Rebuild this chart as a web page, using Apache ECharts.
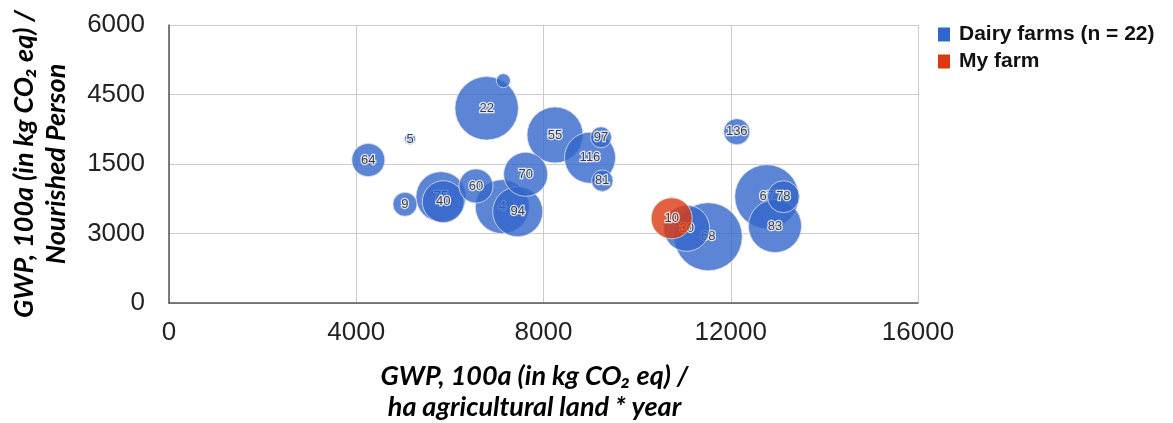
<!DOCTYPE html>
<html>
<head>
<meta charset="utf-8">
<script src="https://cdn.jsdelivr.net/npm/echarts@6/dist/echarts.min.js"></script>
<style>html,body{margin:0;padding:0;background:#fff}#c{width:1173px;height:423px}</style>
</head>
<body>
<div id="c"></div>
<script>
// ---- data ----
var dairyLabels = ['22', '', '5', '64', '55', '97', '116', '81', '70', '60', '40', '75', '9', '4', '94', '136', '67', '78', '83', '30', '68'];
var dairyX = [6786, 7142, 5148, 4258, 8246, 9229, 8993, 9256, 7619, 6558, 5860, 5810, 5041, 7120, 7449, 12128, 12770, 13124, 12945, 11058, 11519];
var dairyY = [4202, 4798, 3540, 3086, 3626, 3576, 3136, 2640, 2777, 2525, 2186, 2294, 2130, 2080, 1971, 3697, 2294, 2294, 1662, 1612, 1431];
var dairySize = [31.7, 7, 5.5, 16.5, 28, 10.5, 25.5, 10.7, 22, 17, 21, 25, 12, 27, 25, 13, 32, 16, 26.5, 23, 34];
var myLabels = ['10'];
var myX = [10738];
var myY = [1828];
var mySize = [20.5];
var xTickLabels = ['0', '4000', '8000', '12000', '16000'];
var yTickLabels = ['0', '3000', '1500', '4500', '6000'];
var seriesNames = ['Dairy farms (n = 22)', 'My farm'];

// ---- build ----
var colors = ['#3366cc', '#dc3912'];
var points = [];
dairyX.forEach(function (x, i) { points.push({ g: 0, v: [x, dairyY[i], dairySize[i], dairyLabels[i]] }); });
myX.forEach(function (x, i) { points.push({ g: 1, v: [x, myY[i], mySize[i], myLabels[i]] }); });
// larger bubbles drawn first, smaller on top
points.sort(function (a, b) { return b.v[2] - a.v[2]; });

function sizeScale(s) { return s * 2; }

var series = points.map(function (p, k) {
  return {
    type: 'scatter',
    name: seriesNames[p.g],
    z: 2 + k,
    data: [p.v],
    symbolSize: function (v) { return sizeScale(v[2]); },
    itemStyle: { color: colors[p.g], opacity: 0.8, borderColor: '#e0e0e0', borderWidth: 1 },
    label: {
      show: true, position: 'inside',
      formatter: function (o) { return o.data[3]; },
      color: '#111', fontSize: 13, fontFamily: 'Arial, Liberation Sans, sans-serif',
      textBorderColor: '#fff', textBorderWidth: 2.5
    },
    emphasis: { disabled: true }
  };
});

var titleFont = { fontFamily: 'Lato, Open Sans, sans-serif', fontWeight: 'bold', fontStyle: 'italic', fontSize: 27, color: '#000', lineHeight: 32 };

var chart = echarts.init(document.getElementById('c'));
chart.setOption({
  animation: false,
  color: colors,
  grid: { left: 169, right: 255, top: 25, bottom: 120, containLabel: false, outerBoundsMode: 'none' },
  legend: {
    orient: 'vertical', left: 933, top: 19,
    data: seriesNames,
    icon: 'rect', itemWidth: 12, itemHeight: 14, itemGap: 6,
    itemStyle: { opacity: 1, borderWidth: 0 },
    textStyle: { fontFamily: 'Arial, Liberation Sans, sans-serif', fontWeight: 'bold', fontSize: 21, color: '#111', padding: [0, 0, 0, 4] },
    selectedMode: false
  },
  xAxis: {
    type: 'value', min: 0, max: 16000, interval: 4000,
    axisLine: { show: true, lineStyle: { color: '#555', width: 1.5 } },
    axisTick: { show: false },
    splitLine: { show: true, lineStyle: { color: '#ccc' } },
    axisLabel: {
      fontSize: 26, color: '#222', margin: 17, fontFamily: 'Arial, Liberation Sans, sans-serif',
      formatter: function (v) { return xTickLabels[Math.round(v / 4000)]; }
    },
    name: 'GWP, 100a (in kg CO\u2082 eq) /\nha agricultural land * year',
    nameLocation: 'middle', nameGap: 58,
    nameTextStyle: Object.assign({}, titleFont, { lineHeight: 31, padding: [0, 18, 0, 0] })
  },
  yAxis: {
    type: 'value', min: 0, max: 6000, interval: 1500,
    axisLine: { show: true, lineStyle: { color: '#555', width: 1.5 } },
    axisTick: { show: false },
    splitLine: { show: true, lineStyle: { color: '#ccc' } },
    axisLabel: {
      fontSize: 26, color: '#222', margin: 24, fontFamily: 'Arial, Liberation Sans, sans-serif',
      formatter: function (v) { return yTickLabels[Math.round(v / 1500)]; }
    },
    name: 'GWP, 100a (in kg CO\u2082 eq) /\nNourished Person',
    nameLocation: 'middle', nameGap: 97, nameRotate: 90,
    nameTextStyle: titleFont
  },
  series: series
});
</script>
</body>
</html>
